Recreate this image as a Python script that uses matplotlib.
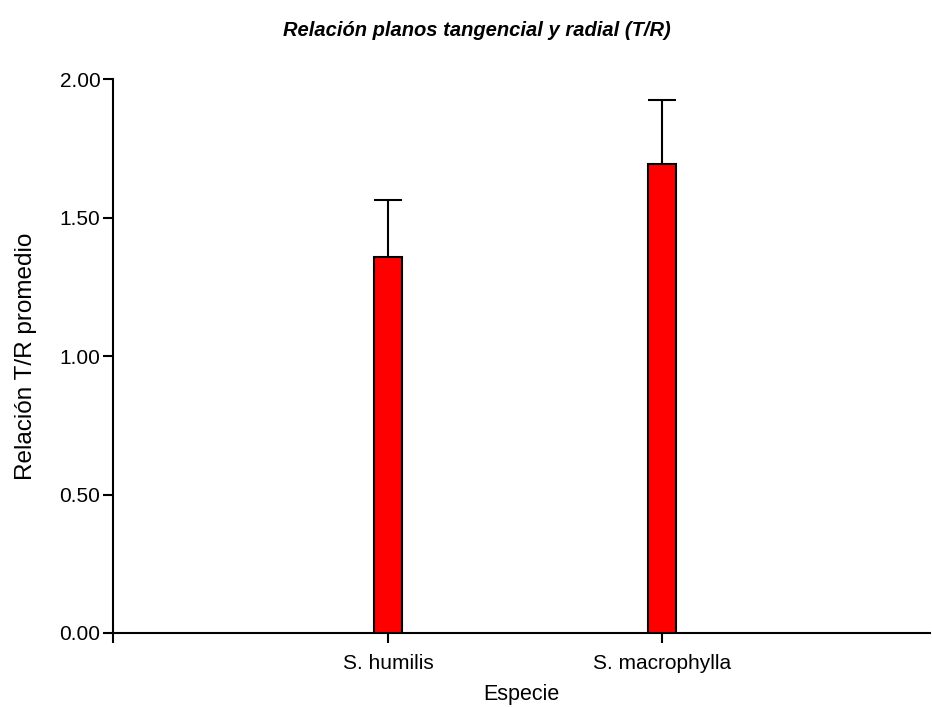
import numpy as np
import matplotlib.pyplot as plt

plt.rcParams['font.family'] = ['Liberation Sans', 'DejaVu Sans']

# data
species = ['S. humilis', 'S. macrophylla']
means = [1.357, 1.693]
errors = [0.206, 0.231]
yticks = [0.0, 0.5, 1.0, 1.5, 2.0]
ytick_labels = ['0.00', '0.50', '1.00', '1.50', '2.00']

fig = plt.figure(figsize=(9.32, 7.07), dpi=100)
ax = fig.add_axes([113 / 932, 1 - 633 / 707, (930 - 113) / 932, (633 - 79) / 707])

x = np.arange(1, len(species) + 1)
ax.bar(x, means, width=0.102, color='#ff0000', edgecolor='black', linewidth=1.5, zorder=3)
# only the upper half of the error bar, cap as wide as the bar
ax.errorbar(x, np.array(means), yerr=[np.zeros(len(means)), errors], fmt='none',
            ecolor='black', elinewidth=1.5, capsize=0, zorder=2)
ax.plot(x, np.array(means) + np.array(errors), linestyle='none', marker='_',
        markersize=20.5, markeredgewidth=1.5, color='black', zorder=2)

ax.set_xlim(-0.004, 2.978)
ax.set_ylim(0, 2.0)
ax.set_yticks(yticks)
ax.set_yticklabels(ytick_labels)
ax.set_xticks([-0.004] + list(x))
ax.set_xticklabels([''] + species)

for side in ['top', 'right']:
    ax.spines[side].set_visible(False)
for side in ['left', 'bottom']:
    ax.spines[side].set_linewidth(1.5)
    ax.spines[side].set_clip_on(False)
ax.tick_params(axis='both', length=7, width=1.5, labelsize=15)
ax.tick_params(axis='y', pad=2)
ax.tick_params(axis='x', pad=8)

ax.set_xlabel('Especie', fontsize=15.5, labelpad=8)
ax.set_ylabel('Relación T/R promedio', fontsize=17.5, labelpad=16)
fig.text(477 / 932, 1 - 31 / 707, 'Relación planos tangencial y radial (T/R)',
         ha='center', va='center', fontsize=14.5, fontweight='bold', fontstyle='italic')

fig.savefig('out.png', dpi=100)
